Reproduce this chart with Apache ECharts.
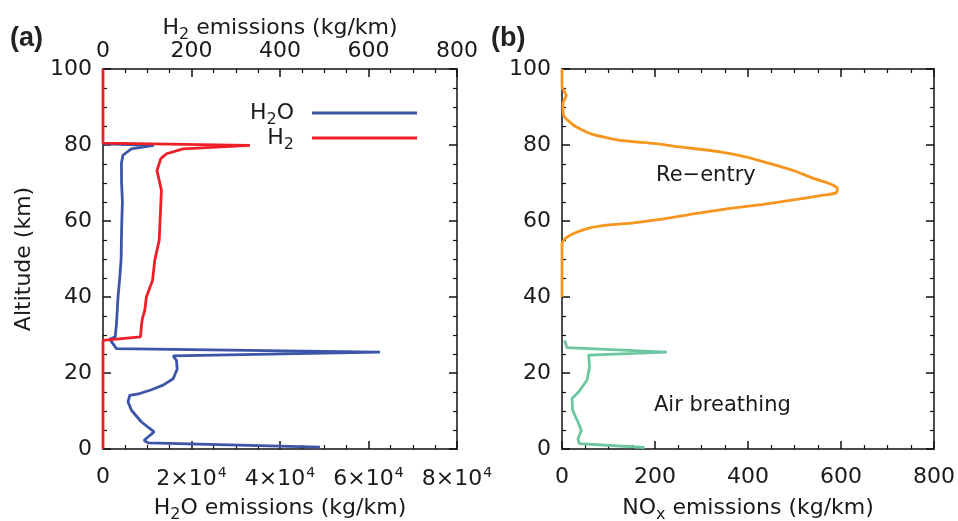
<!DOCTYPE html>
<html><head><meta charset="utf-8">
<script src="https://cdn.jsdelivr.net/npm/echarts@6/dist/echarts.min.js"></script>
<style>html,body{margin:0;padding:0;background:#fff}#c{width:958px;height:521px}</style>
</head><body><div id="c"></div>
<script>
// Panel (a): H2O emissions (bottom axis, kg/km) vs altitude (km)
const h2oVal = [0, 11500, 6400, 4500, 4160, 4200, 4390, 4250, 4160, 4100, 3780, 3400, 3200, 3030, 2750, 1520, 3030, 62600, 15850, 16610, 16760, 15850, 13580, 10950, 8310, 6040, 5660, 6430, 8690, 11550, 9280, 10190, 49060];
const h2oAlt = [80.3, 79.9, 79.0, 77.3, 75.1, 70, 65, 60, 55, 50, 45, 40, 36, 32.6, 29.5, 28.9, 26.4, 25.5, 24.5, 23.3, 21, 18.5, 16.8, 15.6, 14.6, 14.1, 12.4, 10.2, 7.1, 4.5, 2.3, 1.6, 0.5];
// Panel (a): H2 emissions (top axis, kg/km)
const h2Val = [0, 0, 332, 181, 143.5, 130.6, 124.5, 122, 132, 130, 127, 117, 112, 98, 94.4, 89, 87, 84.7, 0, 0];
const h2Alt = [100, 80.5, 79.9, 79, 77.7, 76.4, 74.2, 73.3, 68.1, 62.8, 54.9, 49.7, 44.4, 40, 36.5, 34.3, 32.6, 29.5, 28.6, 0];
// Panel (b): NOx re-entry
const reVal = [0, 0, 9.2, 2, 3.5, 25, 60.8, 125, 197, 254, 340, 397.5, 447.6, 497.7, 540.7, 576.6, 592.4, 589.5, 562, 505, 433, 361.7, 282.8, 211, 153.9, 96.7, 53.7, 25, 7, 0, 0];
const reAlt = [100, 95.3, 93.1, 90.9, 87.8, 85.2, 83, 81.2, 80.4, 79.5, 78.2, 76.8, 75.1, 73.3, 71.2, 69.8, 68.5, 67.4, 66.8, 65.7, 64.4, 63.3, 61.9, 60.4, 59.5, 58.9, 58, 56.7, 55.4, 54, 40];
// Panel (b): NOx air breathing
const abVal = [5.6, 10.7, 225.6, 57.2, 59.3, 53.7, 35.7, 21.5, 22.8, 35.7, 41.5, 34.4, 37.2, 177.5];
const abAlt = [28.6, 26.7, 25.5, 24.7, 21.6, 18.1, 15, 13.3, 10.2, 6.7, 4.9, 2.7, 1.4, 0.4];
// Tick labels
const h2oTicks = {0: '0', 20000: '2×10{sup|4}', 40000: '4×10{sup|4}', 60000: '6×10{sup|4}', 80000: '8×10{sup|4}'};
const altTicks = [0, 20, 40, 60, 80, 100];

const pair = (xs, ys) => xs.map((v, i) => [v, ys[i]]);
const FONT = 'DejaVu Sans';
const TXT = '#1a1a1a';
const lineStyleAxis = {color: '#111', width: 1.5};
const RICH = {
  sub: {fontFamily: FONT, fontSize: 16, color: TXT, padding: [14, 0, 0, 0]},
  sup: {fontFamily: FONT, fontSize: 14, color: TXT, padding: [0, 0, 12, 1]}
};

function xAx(grid, pos, max, interval, showLabel, fmt, name, nameGap, margin) {
  return {
    type: 'value', gridIndex: grid, position: pos, min: 0, max: max, interval: interval,
    axisLine: {show: true, onZero: false, lineStyle: lineStyleAxis},
    axisTick: {show: true, inside: true, length: 8, lineStyle: lineStyleAxis},
    minorTick: {show: true, splitNumber: 4, length: 4, lineStyle: {color: '#111', width: 1.2}},
    splitLine: {show: false},
    axisLabel: {show: showLabel, formatter: fmt, fontFamily: FONT, fontSize: 22, color: TXT, margin: margin, showMinLabel: true, showMaxLabel: true, hideOverlap: false, rich: RICH},
    name: name, nameLocation: 'middle', nameGap: nameGap, nameMoveOverlap: false,
    nameTextStyle: {fontFamily: FONT, fontSize: 22, color: TXT, rich: RICH}
  };
}
function yAx(grid, pos, showLabel, name) {
  return {
    type: 'value', gridIndex: grid, position: pos, min: 0, max: 100, interval: 20,
    axisLine: {show: true, onZero: false, lineStyle: lineStyleAxis},
    axisTick: {show: true, inside: true, length: 8, lineStyle: lineStyleAxis},
    minorTick: {show: true, splitNumber: 4, length: 4, lineStyle: {color: '#111', width: 1.2}},
    splitLine: {show: false},
    axisLabel: {show: showLabel, fontFamily: FONT, fontSize: 22, color: TXT, margin: 11,
      formatter: v => altTicks.includes(v) ? String(v) : ''},
    name: name, nameLocation: 'middle', nameGap: 68, nameRotate: 90, nameMoveOverlap: false,
    nameTextStyle: {fontFamily: FONT, fontSize: 22, color: TXT}
  };
}

const chart = echarts.init(document.getElementById('c'), null, {renderer: 'canvas'});
chart.setOption({
  animation: false,
  backgroundColor: '#fff',
  grid: [
    {left: 103, top: 69, width: 354, height: 380, containLabel: false, outerBoundsMode: 'none'},
    {left: 562, top: 69, width: 372, height: 380, containLabel: false, outerBoundsMode: 'none'}
  ],
  xAxis: [
    xAx(0, 'bottom', 80000, 20000, true, v => h2oTicks[v] || '', 'H{sub|2}O emissions (kg/km)', 44, 17),
    xAx(0, 'top', 800, 200, true, v => String(v), 'H{sub|2} emissions (kg/km)', 26, 7),
    xAx(1, 'bottom', 800, 200, true, v => String(v), 'NO{sub|x} emissions (kg/km)', 44, 17),
    xAx(1, 'top', 800, 200, false, v => '', '', 0, 8)
  ],
  yAxis: [
    yAx(0, 'left', true, 'Altitude (km)'),
    yAx(0, 'right', false, ''),
    yAx(1, 'left', true, ''),
    yAx(1, 'right', false, '')
  ],
  legend: {
    data: ['H₂O', 'H₂'], orient: 'vertical', right: 536, top: 97, align: 'right',
    icon: 'rect', itemWidth: 105, itemHeight: 3, itemGap: -1,
    formatter: n => n === 'H₂O' ? 'H{sub|2}O' : 'H{sub|2}',
    textStyle: {fontFamily: FONT, fontSize: 22, color: TXT, padding: [0, 13, 0, 0], rich: RICH}
  },
  graphic: [
    {type: 'text', left: 10, top: 25, style: {text: '(a)', font: 'bold 27px "Liberation Sans"', fill: '#222'}},
    {type: 'text', left: 491, top: 25, style: {text: '(b)', font: 'bold 27px "Liberation Sans"', fill: '#222'}},
    {type: 'text', left: 656, top: 165, style: {text: 'Re−entry', font: '21px "DejaVu Sans"', fill: TXT}},
    {type: 'text', left: 654, top: 395, style: {text: 'Air breathing', font: '21px "DejaVu Sans"', fill: TXT}}
  ],
  series: [
    {name: 'H₂O', type: 'line', xAxisIndex: 0, yAxisIndex: 0, data: pair(h2oVal, h2oAlt), showSymbol: false, symbol: 'none', lineStyle: {color: '#3d55a6', width: 2.8}, itemStyle: {color: '#3d55a6'}},
    {name: 'H₂', type: 'line', xAxisIndex: 1, yAxisIndex: 0, data: pair(h2Val, h2Alt), showSymbol: false, symbol: 'none', lineStyle: {color: '#ee1f26', width: 2.8}, itemStyle: {color: '#ee1f26'}},
    {name: 'Re-entry', type: 'line', xAxisIndex: 2, yAxisIndex: 2, data: pair(reVal, reAlt), showSymbol: false, symbol: 'none', smooth: 0.2, lineStyle: {color: '#f7961f', width: 2.8}},
    {name: 'Air breathing', type: 'line', xAxisIndex: 2, yAxisIndex: 2, data: pair(abVal, abAlt), showSymbol: false, symbol: 'none', lineStyle: {color: '#6cc6a0', width: 2.8}}
  ]
});
</script></body></html>
